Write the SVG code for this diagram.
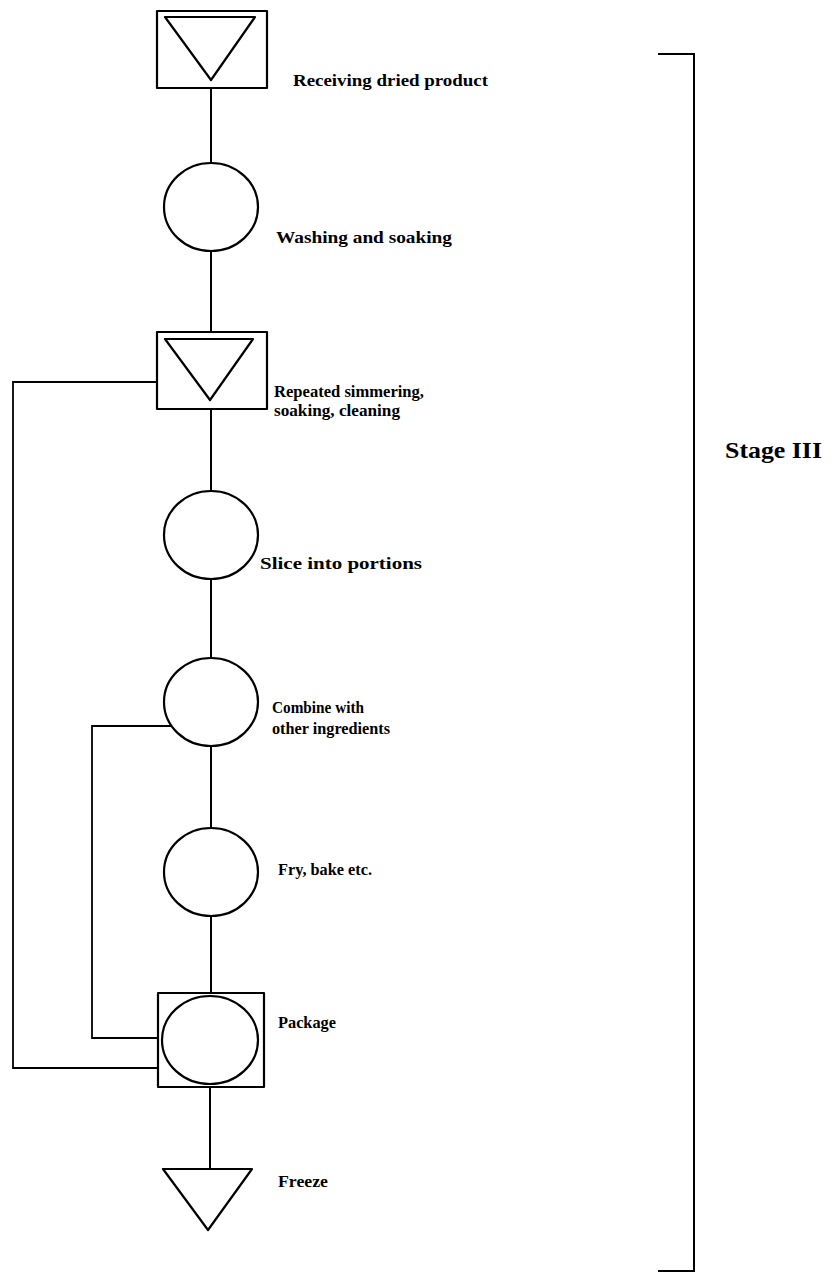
<svg xmlns="http://www.w3.org/2000/svg" width="832" height="1273" viewBox="0 0 832 1273">
<style>
.s{fill:none;stroke:#000;stroke-width:2.2;stroke-linejoin:round}
.c{fill:none;stroke:#000;stroke-width:2}
.f{fill:none;stroke:#000;stroke-width:1.8}
.t{font-family:"Liberation Serif","Times New Roman",serif;font-weight:bold;font-size:16px;fill:#000}
.big{font-size:24px}
</style>
<rect width="832" height="1273" fill="#fff"/>
<g id="connectors">
<line class="c" x1="211" y1="88" x2="211" y2="163"/>
<line class="c" x1="211" y1="251" x2="211" y2="332"/>
<line class="c" x1="211" y1="409" x2="211" y2="491"/>
<line class="c" x1="211" y1="579" x2="211" y2="658"/>
<line class="c" x1="211" y1="746" x2="211" y2="829"/>
<line class="c" x1="211" y1="916" x2="211" y2="993"/>
<line class="c" x1="210" y1="1087" x2="210" y2="1169"/>
<polyline class="f" points="157,382 13,382 13,1068 158,1068"/>
<polyline class="f" points="171,726 92,726 92,1038 158,1038"/>
</g>
<g id="n1">
<rect class="s" x="157" y="11" width="110" height="77"/>
<polygon class="s" points="165,17 255,17 211,80"/>
<text class="t" x="293" y="86" textLength="195" lengthAdjust="spacingAndGlyphs">Receiving dried product</text>
</g>
<g id="n2">
<ellipse class="s" cx="211" cy="207" rx="47" ry="44"/>
<text class="t" x="276" y="243" textLength="176" lengthAdjust="spacingAndGlyphs">Washing and soaking</text>
</g>
<g id="n3">
<rect class="s" x="157" y="332" width="110" height="77"/>
<polygon class="s" points="165,339 253,339 210,400"/>
<text class="t" x="274" y="397" textLength="150" lengthAdjust="spacingAndGlyphs">Repeated simmering,</text>
<text class="t" x="274" y="416" textLength="126" lengthAdjust="spacingAndGlyphs">soaking, cleaning</text>
</g>
<g id="n4">
<ellipse class="s" cx="211" cy="535" rx="47" ry="44"/>
<text class="t" x="260" y="569" textLength="162" lengthAdjust="spacingAndGlyphs">Slice into portions</text>
</g>
<g id="n5">
<ellipse class="s" cx="211" cy="702" rx="47" ry="44"/>
<text class="t" x="272" y="713" textLength="92" lengthAdjust="spacingAndGlyphs">Combine with</text>
<text class="t" x="272" y="734" textLength="118" lengthAdjust="spacingAndGlyphs">other ingredients</text>
</g>
<g id="n6">
<ellipse class="s" cx="211" cy="872" rx="47" ry="44"/>
<text class="t" x="278" y="875" textLength="94" lengthAdjust="spacingAndGlyphs">Fry, bake etc.</text>
</g>
<g id="n7">
<rect class="s" x="158" y="993" width="106" height="94"/>
<ellipse class="s" cx="210" cy="1040" rx="48" ry="44"/>
<text class="t" x="278" y="1028" textLength="58" lengthAdjust="spacingAndGlyphs">Package</text>
</g>
<g id="n8">
<polygon class="s" points="163,1169 252,1169 208,1230"/>
<text class="t" x="278" y="1187" textLength="50" lengthAdjust="spacingAndGlyphs">Freeze</text>
</g>
<g id="bracket">
<polyline class="c" points="658,54 694,54 694,1271 658,1271"/>
<text class="t big" x="725" y="458" textLength="97" lengthAdjust="spacingAndGlyphs">Stage III</text>
</g>
</svg>
